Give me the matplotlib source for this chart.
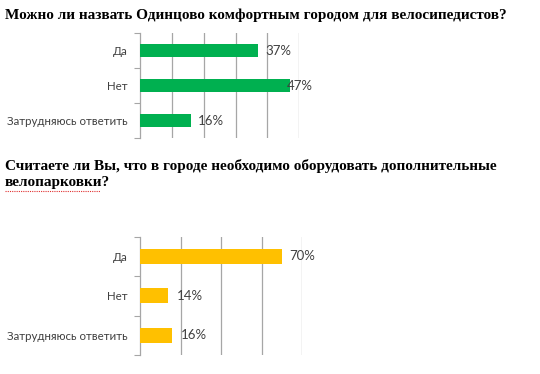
import matplotlib
matplotlib.use("Agg")
import matplotlib.pyplot as plt
from matplotlib.lines import Line2D

# Survey data
categories = ["Да", "Нет", "Затрудняюсь ответить"]
comfort_pct = [37, 47, 16]
parking_pct = [70, 14, 16]

title1 = "Можно ли назвать Одинцово комфортным городом для велосипедистов?"
title2 = "Считаете ли Вы, что в городе необходимо оборудовать дополнительные\nвелопарковки?"

GREEN = "#00B050"
YELLOW = "#FFC000"
GRID = "#A6A6A6"
TEXT = "#404040"
SANS = "Lato"
SERIF = "Liberation Serif"

fig = plt.figure(figsize=(5.4, 3.74), dpi=100)
fig.patch.set_facecolor("white")


def bar_panel(rect, values, color, xmax, step, label_dx):
    ax = fig.add_axes(rect)
    ypos = list(range(len(categories)))
    ax.barh(ypos, values, height=0.38, color=color, zorder=3)
    ax.set_xlim(0, xmax)
    ax.set_ylim(len(categories) - 0.5, -0.5)

    # vertical gridlines, no x labels
    ax.set_xticks(range(step, xmax + 1, step))
    ax.tick_params(axis="x", length=0, labelbottom=False)
    ax.grid(axis="x", color=GRID, linewidth=0.9, zorder=0)

    # category boundaries get tick marks, labels sit in between
    ax.set_yticks([y - 0.5 for y in range(len(categories) + 1)])
    ax.set_yticklabels([])
    ax.tick_params(axis="y", which="major", length=4, color=GRID, direction="out")
    ax.set_yticks(ypos, minor=True)
    ax.set_yticklabels(categories, minor=True, fontsize=8.3, color=TEXT, family=SANS)
    ax.tick_params(axis="y", which="minor", length=0, pad=9)

    for s in ["top", "right", "bottom"]:
        ax.spines[s].set_visible(False)
    ax.spines["left"].set_color(GRID)
    ax.spines["left"].set_linewidth(0.9)

    for y, v, dx in zip(ypos, values, label_dx):
        ax.annotate(f"{v}%", (v, y), xytext=(dx, 0), textcoords="offset pixels",
                    ha="left", va="center", fontsize=9.5, color=TEXT, family=SANS)
    return ax


bar_panel([0.2593, 0.6310, 0.2950, 0.2807], comfort_pct, GREEN, 50, 10, [7, -3, 7])
bar_panel([0.2593, 0.0508, 0.3000, 0.3163], parking_pct, YELLOW, 80, 20, [7, 8, 8])

fig.text(5 / 540, 1 - 15 / 374, title1, ha="left", va="center", fontsize=11,
         fontweight="bold", family=SERIF, color="black")
fig.text(5 / 540, 1 - 174 / 374, title2, ha="left", va="center", fontsize=11,
         fontweight="bold", family=SERIF, color="black", linespacing=1.25)

# spell-check squiggle under the second line of the question
fig.add_artist(Line2D([5 / 540, 100 / 540], [1 - 191 / 374, 1 - 191 / 374],
                      color="#E03030", linewidth=0.8, linestyle=(0, (1, 1))))

fig.savefig("out.png", dpi=100, facecolor="white")
